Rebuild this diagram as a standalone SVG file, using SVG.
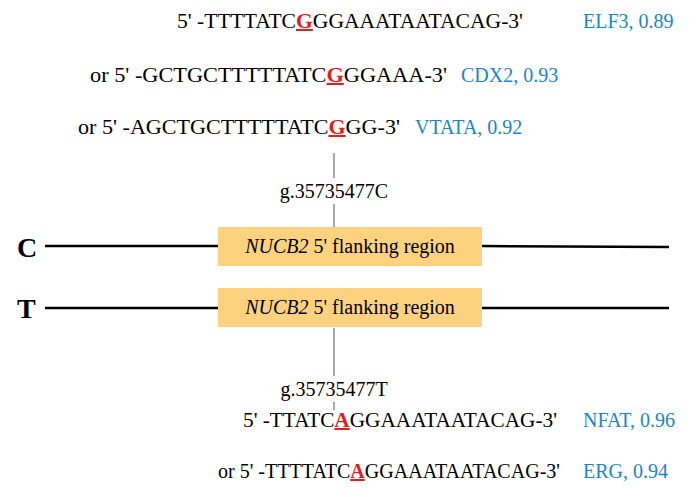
<svg xmlns="http://www.w3.org/2000/svg" width="700" height="497" viewBox="0 0 700 497">
<style>
text{font-family:"Liberation Serif","Times New Roman",serif;font-size:20px;fill:#000}
.b{fill:#1a86c8}
.r{fill:#e0201b;font-weight:bold;text-decoration:underline}
.box{fill:#fdd27e}
.ln{stroke:#000;stroke-width:2.5}
.th{stroke:#555;stroke-width:1}
</style>
<rect width="700" height="497" fill="#fff"/>
<g id="connectors">
<line class="ln" x1="45" y1="246" x2="218" y2="246"/>
<line class="ln" x1="482" y1="246" x2="669" y2="247"/>
<line class="ln" x1="45" y1="308" x2="218" y2="308"/>
<line class="ln" x1="482" y1="308" x2="669" y2="308"/>
<line class="th" x1="334" y1="153" x2="334" y2="178"/>
<line class="th" x1="334" y1="204" x2="334" y2="227"/>
<line class="th" x1="334" y1="328" x2="334" y2="376"/>
<line class="th" x1="334" y1="402" x2="334" y2="410"/>
</g>
<g id="seqG">
<text x="177" y="28" textLength="346" lengthAdjust="spacingAndGlyphs">5' -TTTTATC<tspan class="r">G</tspan>GGAAATAATACAG-3'</text>
<text x="90" y="82" textLength="357" lengthAdjust="spacingAndGlyphs">or 5' -GCTGCTTTTTATC<tspan class="r">G</tspan>GGAAA-3'</text>
<text x="78" y="134" textLength="322" lengthAdjust="spacingAndGlyphs">or 5' -AGCTGCTTTTTATC<tspan class="r">G</tspan>GG-3'</text>
<text class="b" x="583" y="28">ELF3, 0.89</text>
<text class="b" x="461" y="82">CDX2, 0.93</text>
<text class="b" x="415" y="134">VTATA, 0.92</text>
<text x="334" y="198" text-anchor="middle">g.35735477C</text>
</g>
<g id="nodeC">
<text x="17" y="257" style="font-size:28px;font-weight:bold">C</text>
<rect class="box" x="218" y="227" width="264" height="39"/>
<text x="350" y="253" text-anchor="middle"><tspan font-style="italic">NUCB2</tspan> 5' flanking region</text>
</g>
<g id="nodeT">
<text x="17" y="318" style="font-size:28px;font-weight:bold">T</text>
<rect class="box" x="218" y="288" width="264" height="39"/>
<text x="350" y="314" text-anchor="middle"><tspan font-style="italic">NUCB2</tspan> 5' flanking region</text>
</g>
<g id="seqA">
<text x="334" y="396" text-anchor="middle">g.35735477T</text>
<text x="243" y="427" textLength="314" lengthAdjust="spacingAndGlyphs">5' -TTATC<tspan class="r">A</tspan>GGAAATAATACAG-3'</text>
<text x="218" y="478" textLength="342" lengthAdjust="spacingAndGlyphs">or 5' -TTTTATC<tspan class="r">A</tspan>GGAAATAATACAG-3'</text>
<text class="b" x="583" y="427">NFAT, 0.96</text>
<text class="b" x="583" y="478">ERG, 0.94</text>
</g>
</svg>
